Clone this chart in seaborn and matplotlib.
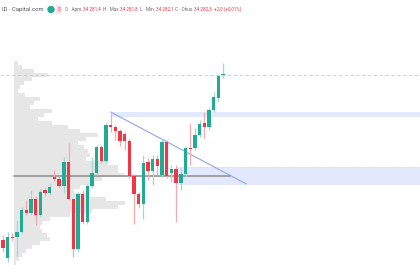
import numpy as np
import pandas as pd
import matplotlib
matplotlib.use("Agg")
import matplotlib.pyplot as plt
import seaborn as sns

# ---- candle data (OHLC) ----
opens = [32632, 32452, 32662, 32662, 32712, 32932, 32902, 33042, 32882, 33132,
         33102, 33262, 33242, 33172, 33412, 33042, 32542, 33092, 32812, 33172,
         33302, 33562, 33422, 33782, 33762, 33722, 33692, 33622, 33272, 33092,
         32992, 33412, 33322, 33442, 33282, 33612, 33302, 33342, 33202, 33292,
         33552, 33552, 33682, 33802, 33762, 33932, 34052, 34279.4]
highs = [32682, 32712, 32702, 32832, 32962, 33032, 33132, 33072, 33142, 33152,
         33202, 33332, 33272, 33462, 33602, 33052, 33112, 33132, 33192, 33462,
         33582, 33582, 33802, 33912, 33782, 33742, 33712, 33642, 33292, 33112,
         33482, 33452, 33482, 33482, 33652, 33632, 33382, 33382, 33352, 33572,
         33802, 33752, 33832, 33912, 33952, 34112, 34292, 34402]
lows = [32512, 32412, 32622, 32472, 32692, 32882, 32882, 32782, 32862, 33072,
        33082, 33222, 33152, 33102, 33032, 32462, 32512, 32792, 32792, 33152,
        33282, 33402, 33402, 33712, 33632, 33572, 33532, 33252, 32792, 32952,
        32842, 33232, 33182, 33282, 33262, 33252, 33212, 32812, 33132, 33272,
        33382, 33532, 33662, 33652, 33732, 33912, 34012, 34252]
closes = [32552, 32662, 32652, 32712, 32932, 32902, 33042, 32882, 33112, 33102,
          33162, 33242, 33172, 33412, 33042, 32542, 33092, 32812, 33172, 33302,
          33562, 33422, 33782, 33762, 33722, 33622, 33622, 33272, 33092, 32992,
          33402, 33322, 33442, 33372, 33612, 33272, 33342, 33202, 33292, 33552,
          33542, 33682, 33792, 33762, 33932, 34062, 34272, 34282.3]

# ---- volume profile (price level -> relative volume) ----
profile_levels = np.arange(34402, 32380, -40)
profile_volume = [4, 8, 20, 34, 18, 10, 6, 4, 11, 26,
                  20, 16, 38, 30, 24, 38, 54, 66, 84, 72,
                  64, 70, 74, 76, 72, 94, 104, 104, 110, 88,
                  78, 66, 60, 76, 92, 111, 104, 78, 56, 36,
                  28, 26, 28, 33, 36, 26, 18, 12, 8, 5, 2]

# ---- drawn levels ----
poc_price = 33272
last_price = 34282.3
trend_x = [23, 52]
trend_y = [33912, 33192]
zone1 = (33862, 33912, 23)   # low, high, start candle
zone2 = (33182, 33362, 37)

symbol_text = "ID · Capital.com"
header_parts = [
    ("O · Apm.", "#6a6d78"),
    ("34 281,4", "#f23645"),
    ("H · Max.", "#6a6d78"),
    ("34 281,8", "#f23645"),
    ("L · Min.", "#6a6d78"),
    ("34 282,1", "#f23645"),
    ("C · Ohus.", "#6a6d78"),
    ("34 282,3", "#f23645"),
    ("+2,0 (+0,01%)", "#f23645"),
]

sns.set_theme(style="white")
plt.rcParams['font.family'] = ['Roboto', 'DejaVu Sans']

GREEN = "#22ab94"
RED = "#f23645"
GREEN_W = "#9fd9cf"
RED_W = "#f7a9b0"

df = pd.DataFrame({"o": opens, "h": highs, "l": lows, "c": closes})
df["i"] = np.arange(len(df))
up = df["c"] >= df["o"]

fig = plt.figure(figsize=(4.2, 2.8), dpi=100)
ax = fig.add_axes([0, 0, 1, 1])
px = 4.68  # pixels per candle
ax.set_xlim(-3 / px, 417 / px)
ax.set_ylim(32232, 35032)

# volume profile
x0 = 11 / px
ax.barh(profile_levels, np.array(profile_volume) / px, left=x0, height=32,
        color="#e6e6e6", zorder=0, linewidth=0)

# zones
right = ax.get_xlim()[1]
for lo, hi, start in (zone1, zone2):
    ax.fill_between([start, right], lo, hi, color="#e3e9fd", zorder=0.5, linewidth=0)
ax.plot([zone2[2], right], [zone2[1], zone2[1]], color="#d6ddf8", lw=0.6,
        ls=(0, (2, 2)), zorder=0.6)

# last price dashed line
ax.axhline(last_price, color="#f5b5bb", lw=0.6, ls=(0, (4, 3)), zorder=0.7)

# POC line
ax.plot([x0, 227 / px], [poc_price, poc_price], color="#9a9a9a", lw=1.3, zorder=3)

# trend line
sns.lineplot(x=trend_x, y=trend_y, ax=ax, color="#8ea6f0", lw=0.8, zorder=2)

# candles
ax.vlines(df["i"], df["l"], df["h"], colors=np.where(up, GREEN_W, RED_W),
          lw=0.9, zorder=4)
body_lo = np.minimum(df["o"], df["c"])
body_h = np.maximum(np.abs(df["c"] - df["o"]), 12)
ax.bar(df["i"], body_h, bottom=body_lo, width=0.72,
       color=np.where(up, GREEN, RED), linewidth=0, zorder=5)

ax.set_axis_off()

# header
W, H = 420.0, 280.0
yh = 1 - 9.5 / H
fig.text(2 / W, yh, symbol_text, color="#50535e", fontsize=4.2, va="center", ha="left")
fig.patches.append(matplotlib.patches.Ellipse((51 / W, yh), 6 / W, 6 / H,
                   transform=fig.transFigure, color=GREEN, figure=fig))
fig.text(57.5 / W, yh, "5", color=RED, fontsize=3.4, va="center", ha="left",
         bbox=dict(boxstyle="round,pad=0.35", fc="#fde0e3", ec="none"))
renderer = fig.canvas.get_renderer()
cursor = 65.0
for k, (txt, col) in enumerate(header_parts):
    t = fig.text(cursor / W, yh, txt, color=col, fontsize=3.35, va="center", ha="left")
    w = t.get_window_extent(renderer).width
    gap = 0.6 if col == "#6a6d78" else 2.0
    cursor += w + gap

fig.savefig("out.png", dpi=100)
